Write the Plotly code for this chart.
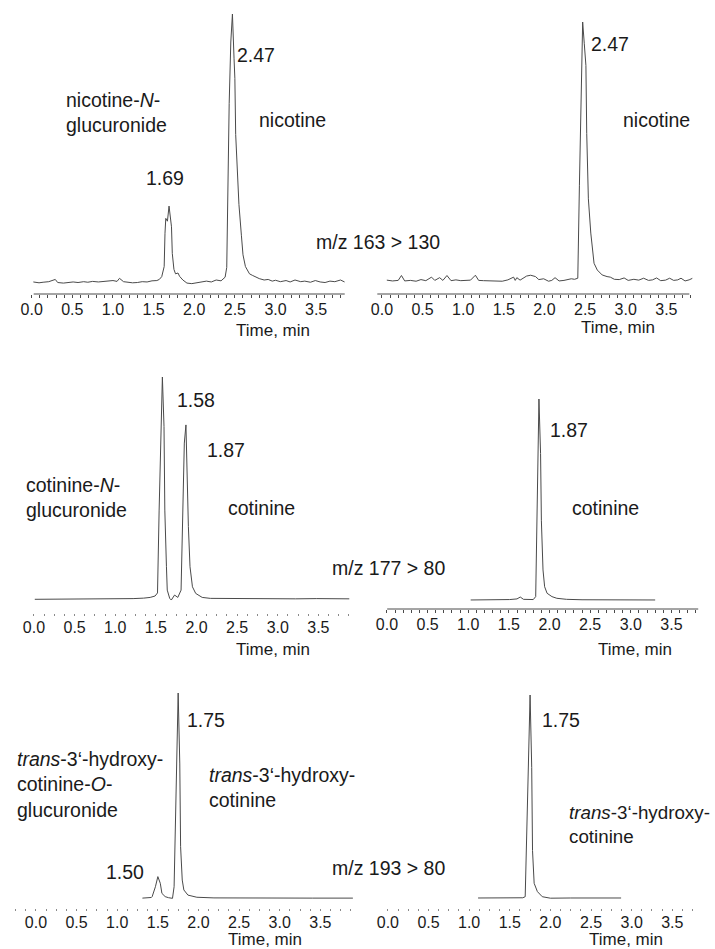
import plotly.graph_objects as go

# ---------------- data: retention time (min) and intensity (% of the largest peak in each trace) -------------
t1 = [0.02, 0.09, 0.14, 0.21, 0.29, 0.32, 0.39, 0.45, 0.51, 0.57, 0.64, 0.69, 0.75, 0.82, 0.87, 0.94,
      1.00, 1.05, 1.08, 1.13, 1.18, 1.24, 1.30, 1.36, 1.42, 1.48, 1.54, 1.57, 1.60, 1.63, 1.64, 1.65,
      1.67, 1.68, 1.69, 1.72, 1.73, 1.75, 1.77, 1.80, 1.82, 1.86, 1.91, 1.97, 2.03, 2.09, 2.15, 2.21,
      2.27, 2.33, 2.38, 2.40, 2.41, 2.43, 2.45, 2.47, 2.49, 2.50, 2.51, 2.54, 2.55, 2.58, 2.60, 2.63,
      2.68, 2.72, 2.76, 2.80, 2.86, 2.91, 2.96, 3.00, 3.06, 3.13, 3.18, 3.24, 3.31, 3.36, 3.43, 3.49,
      3.55, 3.61, 3.67, 3.73, 3.80, 3.85]
i1 = [4.3, 4.0, 4.2, 4.4, 5.2, 4.1, 3.9, 4.0, 4.3, 4.1, 4.4, 4.2, 4.5, 4.3, 4.4, 4.6,
      4.8, 4.5, 5.6, 4.4, 4.2, 4.0, 4.1, 4.4, 4.3, 4.7, 4.8, 5.2, 6.2, 9.8, 21.7, 27.0,
      26.0, 29.0, 31.4, 24.0, 14.5, 8.8, 7.2, 7.5, 6.3, 5.0, 3.9, 3.7, 4.0, 4.4, 4.6, 4.3,
      5.0, 4.7, 6.0, 9.5, 35, 68, 90, 100, 84, 77, 57, 40, 32, 21, 14, 9.8,
      7.2, 6.6, 6.0, 5.5, 5.0, 5.2, 4.6, 4.9, 4.4, 4.8, 4.3, 5.0, 4.4, 4.6, 4.2, 4.8,
      4.3, 4.1, 4.6, 4.4, 5.0, 4.3]

t2 = [0.06, 0.13, 0.20, 0.24, 0.28, 0.35, 0.42, 0.48, 0.54, 0.61, 0.65, 0.71, 0.75, 0.80, 0.85, 0.91,
      0.97, 1.03, 1.09, 1.15, 1.19, 1.25, 1.33, 1.41, 1.48, 1.55, 1.62, 1.64, 1.66, 1.70, 1.78, 1.83,
      1.89, 1.93, 1.99, 2.05, 2.09, 2.13, 2.18, 2.24, 2.29, 2.33, 2.37, 2.41, 2.43, 2.45, 2.47, 2.49,
      2.51, 2.52, 2.54, 2.57, 2.61, 2.65, 2.71, 2.77, 2.81, 2.86, 2.92, 2.98, 3.03, 3.10, 3.16, 3.22,
      3.28, 3.33, 3.38, 3.43, 3.49, 3.54, 3.59, 3.64, 3.68, 3.73, 3.78, 3.83, 3.87]
i2 = [5.1, 4.8, 5.0, 6.8, 4.8, 5.0, 4.7, 5.3, 4.9, 6.2, 5.0, 6.0, 5.0, 6.8, 4.9, 5.2,
      4.9, 5.0, 5.1, 6.9, 5.0, 4.9, 4.8, 4.8, 4.7, 5.2, 6.2, 5.0, 6.0, 5.1, 6.6, 6.9,
      6.4, 5.3, 5.6, 4.7, 5.0, 6.0, 4.8, 5.0, 5.3, 5.6, 5.4, 5.8, 40, 75, 100, 92,
      84, 59, 35, 22.4, 11.3, 8.8, 7.0, 6.4, 6.2, 5.4, 5.3, 5.9, 5.0, 5.4, 5.1, 5.8,
      5.0, 5.2, 5.9, 4.9, 5.1, 5.8, 5.0, 5.2, 5.8, 4.8, 5.2, 5.9, 5.0]

t3 = [0.01, 0.26, 0.52, 0.78, 1.04, 1.22, 1.35, 1.43, 1.49, 1.52, 1.54, 1.56, 1.58, 1.60, 1.61, 1.63,
      1.64, 1.67, 1.69, 1.73, 1.77, 1.81, 1.83, 1.85, 1.87, 1.88, 1.90, 1.92, 1.95, 1.99, 2.07, 2.17,
      2.43, 2.70, 2.96, 3.22, 3.48, 3.65, 3.88]
i3 = [5.8, 5.8, 5.9, 5.9, 6.0, 6.1, 6.3, 6.6, 7.2, 8.5, 43.6, 79, 100, 79, 43.6, 19.6,
      9.7, 6.2, 5.5, 7.6, 6.6, 9.7, 43.6, 72, 79.7, 64.8, 36.6, 19.6, 11.1, 8.3, 6.6, 6.2,
      6.1, 6.0, 6.0, 6.0, 6.1, 6.0, 6.0]

t4 = [1.03, 1.18, 1.37, 1.51, 1.60, 1.64, 1.68, 1.74, 1.80, 1.83, 1.85, 1.87, 1.89, 1.90, 1.92, 1.94,
      1.97, 2.03, 2.09, 2.21, 2.40, 2.68, 2.96, 3.15, 3.30]
i4 = [4.3, 4.3, 4.4, 4.5, 4.8, 5.7, 4.6, 4.4, 4.5, 5.9, 58, 100, 74, 42, 18.6, 10.6,
      7.5, 5.9, 5.1, 4.6, 4.4, 4.3, 4.3, 4.3, 4.3]

t5 = [1.31, 1.37, 1.42, 1.43, 1.47, 1.50, 1.53, 1.55, 1.59, 1.63, 1.68, 1.70, 1.72, 1.74, 1.75, 1.77,
      1.78, 1.80, 1.82, 1.87, 1.98, 2.19, 2.54, 2.97, 3.40, 3.90]
i5 = [4.6, 4.7, 4.9, 5.3, 9.9, 14.6, 11.5, 6.8, 5.3, 4.8, 4.5, 9.9, 44, 83, 100, 67,
      28.5, 13, 8.4, 6.0, 5.0, 4.7, 4.6, 4.6, 4.6, 4.6]

t6 = [1.11, 1.33, 1.52, 1.66, 1.69, 1.72, 1.75, 1.77, 1.78, 1.80, 1.84, 1.90, 2.00, 2.25, 2.53, 2.87]
i6 = [4.7, 4.7, 4.7, 4.8, 5.3, 58.5, 100, 66, 27, 11.6, 7.7, 5.3, 4.6, 4.7, 4.7, 4.7]

tick_vals = [0.0, 0.5, 1.0, 1.5, 2.0, 2.5, 3.0, 3.5]
tick_text = ["0.0", "0.5", "1.0", "1.5", "2.0", "2.5", "3.0", "3.5"]

series = [(t1, i1), (t2, i2), (t3, i3), (t4, i4), (t5, i5), (t6, i6)]

# ---------------- layout geometry (pixels of a 715 x 949 page) ----------------
W, H = 715, 949
FONT = "Liberation Sans, Arial, Helvetica, sans-serif"
TXT = "#1a1a1a"
LINE = "#4a4a4a"
K = 82.3  # px per minute

# x0: pixel of t=0, dom: x pixel domain, ybot: axis pixel, ypk: pixel of 100 %,
# line: (x from, x to) of a solid axis line, or None for a dotted axis
panels = [
    dict(x0=23.0, dom=(21, 342), ybot=294, ypk=14, line=(25, 340)),
    dict(x0=377.7, dom=(371, 692), ybot=294, ypk=22, line=(373, 689)),
    dict(x0=25.3, dom=(22, 348), ybot=613, ypk=377, line=None),
    dict(x0=382.8, dom=(380, 700), ybot=609, ypk=399, line=(383, 698)),
    dict(x0=27.3, dom=(2, 350), ybot=908, ypk=693, line=None),
    dict(x0=383.7, dom=(382, 700), ybot=908, ypk=695, line=None),
]

fig = go.Figure()
layout = dict(width=W, height=H, margin=dict(l=0, r=0, t=0, b=0),
              paper_bgcolor="white", plot_bgcolor="white", showlegend=False,
              font=dict(family=FONT, color=TXT))
shapes = []

for n, (p, (tt, ii)) in enumerate(zip(panels, series), start=1):
    xa = "xaxis" if n == 1 else f"xaxis{n}"
    ya = "yaxis" if n == 1 else f"yaxis{n}"
    xr = "x" if n == 1 else f"x{n}"
    yr = "y" if n == 1 else f"y{n}"
    unit = (p["ybot"] - p["ypk"]) / 100.0
    ytop = max(1.0, p["ypk"] - 8)
    ymax = (p["ybot"] - ytop) / unit
    dl, dr = p["dom"]
    dotted = p["line"] is None
    tcol = "#8a8a8a" if dotted else LINE
    layout[xa] = dict(
        domain=[dl / W, dr / W],
        range=[(dl - p["x0"]) / K, (dr - p["x0"]) / K],
        anchor=yr, showgrid=False, zeroline=False, showline=False,
        tickmode="array", tickvals=tick_vals, ticktext=tick_text,
        ticks="outside", ticklen=2 if dotted else 3, tickwidth=1, tickcolor=tcol,
        minor=dict(ticks="outside", dtick=0.125 if dotted else 0.1, tick0=0,
                   ticklen=2 if dotted else 3, tickwidth=1, tickcolor=tcol, showgrid=False),
        tickfont=dict(size=16, family=FONT, color=TXT),
        ticklabelstandoff=-2,
        fixedrange=True,
    )
    layout[ya] = dict(domain=[1 - p["ybot"] / H, 1 - ytop / H], range=[0, ymax],
                      anchor=xr, visible=False, fixedrange=True)
    fig.add_trace(go.Scatter(x=tt, y=ii, mode="lines", xaxis=xr, yaxis=yr,
                             line=dict(color=LINE, width=1), hoverinfo="skip"))
    if not dotted:
        a, b = p["line"]
        shapes.append(dict(type="line", xref="paper", yref="paper",
                           x0=a / W, x1=b / W, y0=1 - p["ybot"] / H, y1=1 - p["ybot"] / H,
                           line=dict(color=LINE, width=1)))

layout["shapes"] = shapes


def lab(text, x, y, size=19.5, anchor="left"):
    return dict(text=text, x=x / W, y=1 - y / H, xref="paper", yref="paper",
                xanchor=anchor, yanchor="middle", align="left", showarrow=False,
                font=dict(size=size, family=FONT, color=TXT))


ann = [
    # row 1
    lab("2.47", 229, 55), lab("nicotine-<i>N</i>-<br>glucuronide", 56, 112),
    lab("nicotine", 251, 120), lab("1.69", 137, 178),
    lab("m/z 163 &gt; 130", 374, 242, anchor="center"),
    lab("2.47", 587, 44), lab("nicotine", 620, 120),
    lab("Time, min", 267, 331, size=17, anchor="center"),
    lab("Time, min", 617, 327, size=17, anchor="center"),
    # row 2
    lab("1.58", 168, 400), lab("1.87", 198, 450),
    lab("cotinine-<i>N</i>-<br>glucuronide", 15, 497), lab("cotinine", 220, 508),
    lab("m/z 177 &gt; 80", 384, 568, anchor="center"),
    lab("1.87", 546, 430), lab("cotinine", 568, 508),
    lab("Time, min", 267, 649, size=17, anchor="center"),
    lab("Time, min", 634, 649, size=17, anchor="center"),
    # row 3
    lab("1.75", 178, 720),
    lab("<i>trans</i>-3\u2018-hydroxy-<br>cotinine-<i>O</i>-<br>glucuronide", 6, 784),
    lab("<i>trans</i>-3\u2018-hydroxy-<br>cotinine", 201, 787),
    lab("1.50", 96, 872),
    lab("m/z 193 &gt; 80", 384, 868, anchor="center"),
    lab("1.75", 538, 720),
    lab("<i>trans</i>-3\u2018-hydroxy-<br>cotinine", 565, 824, size=18.8),
    lab("Time, min", 259, 939, size=17, anchor="center"),
    lab("Time, min", 625, 939, size=17, anchor="center"),
]
layout["annotations"] = ann

fig.update_layout(**layout)
fig.write_html("out.html", config={"displayModeBar": False},
               post_script="document.body.style.margin='0';document.body.style.overflow='hidden';")
